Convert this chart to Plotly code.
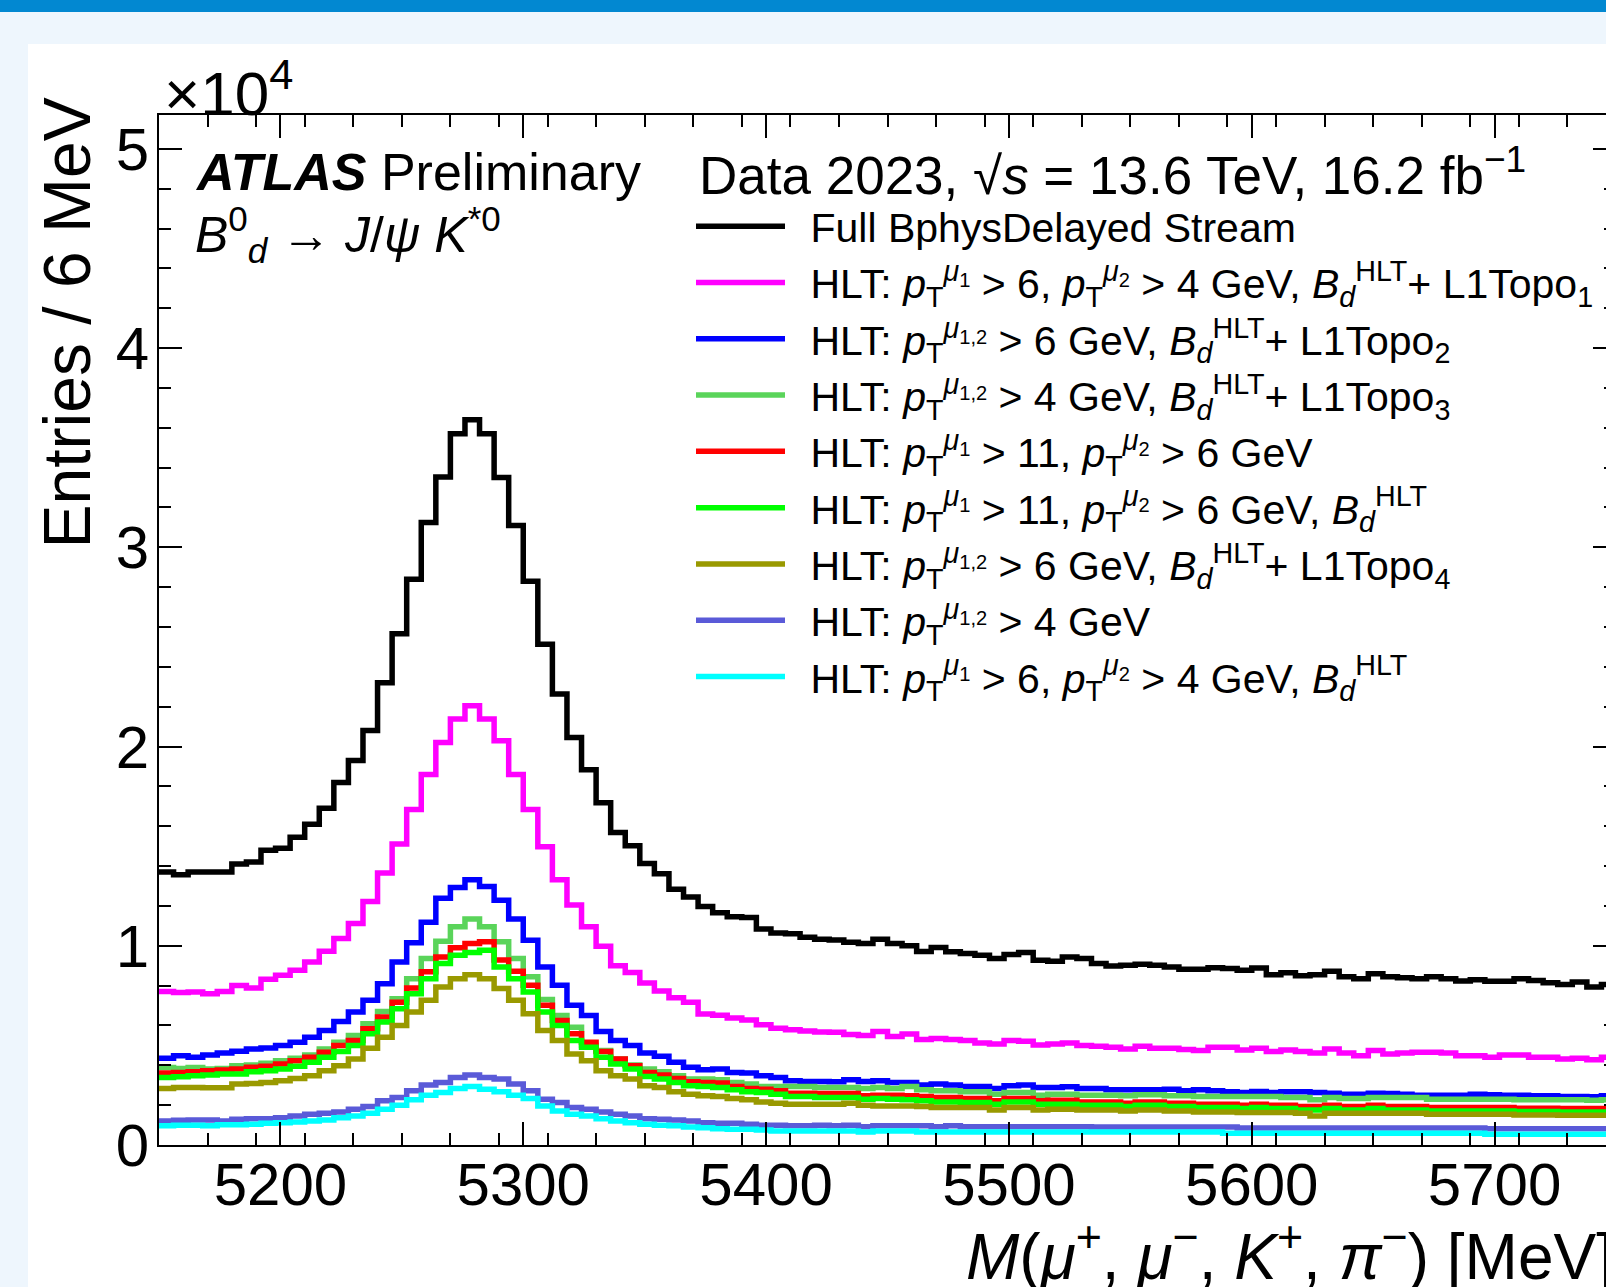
import plotly.graph_objects as go

# ---------------- data (entries per 6 MeV bin, 5150-5750 MeV) ----------------
bin_lo = 5150
bin_width = 6
n_bins = 100

full_stream = [13700, 13560, 13700, 13700, 13700, 14100, 14200, 14800, 14900, 15450,
               16100, 16900, 18200, 19300, 20800, 23200, 25660, 28400, 31250, 33530,
               35700, 36400, 35700, 33500, 31100, 28300, 25140, 22640, 20450, 18830,
               17180, 15680, 15020, 14130, 13620, 12840, 12450, 11970, 11660, 11460,
               11420, 10840, 10640, 10600, 10430, 10330, 10290, 10180, 10120, 10330,
               10120, 10000, 9710, 9910, 9700, 9610, 9530, 9360, 9560, 9660,
               9270, 9220, 9440, 9360, 9110, 8990, 9020, 9070, 9020, 8940,
               8820, 8820, 8900, 8860, 8770, 8890, 8550, 8650, 8490, 8550,
               8720, 8440, 8350, 8600, 8440, 8390, 8350, 8440, 8350, 8230,
               8300, 8220, 8220, 8350, 8260, 8150, 8050, 8180, 7930, 8050]

topo1 = [7710, 7650, 7680, 7590, 7710, 8010, 7880, 8320, 8520, 8770,
         9190, 9730, 10370, 11120, 12220, 13650, 15110, 16840, 18600, 20200,
         21380, 22050, 21380, 20290, 18600, 16840, 14970, 13310, 12050, 10960,
         9980, 9000, 8660, 8130, 7730, 7390, 7160, 6580, 6510, 6370,
         6270, 6030, 5860, 5780, 5720, 5670, 5660, 5550, 5500, 5700,
         5450, 5570, 5300, 5350, 5290, 5240, 5120, 5070, 5240, 5210,
         5020, 5070, 5120, 4990, 4960, 4910, 4820, 4960, 4860, 4860,
         4790, 4740, 4910, 4910, 4770, 4860, 4690, 4770, 4690, 4620,
         4820, 4620, 4480, 4740, 4570, 4620, 4650, 4650, 4620, 4480,
         4480, 4400, 4520, 4520, 4400, 4400, 4320, 4350, 4280, 4400]

topo2 = [4350, 4480, 4400, 4520, 4620, 4700, 4820, 4870, 4990, 5160,
         5410, 5750, 6200, 6670, 7260, 8100, 9190, 10150, 11180, 12390,
         12920, 13310, 12980, 12290, 11340, 10280, 8940, 8020, 7010, 6500,
         5700, 5240, 4990, 4620, 4450, 4150, 3900, 3780, 3810, 3640,
         3610, 3480, 3390, 3220, 3190, 3190, 3170, 3270, 3190, 3220,
         3140, 3140, 3010, 3060, 3010, 2940, 2940, 2840, 2970, 3010,
         2890, 2890, 2920, 2840, 2840, 2770, 2770, 2770, 2770, 2800,
         2720, 2770, 2720, 2670, 2640, 2690, 2640, 2670, 2670, 2640,
         2600, 2550, 2550, 2600, 2590, 2550, 2500, 2500, 2500, 2500,
         2550, 2520, 2500, 2500, 2470, 2470, 2430, 2430, 2420, 2470]

topo3 = [3890, 3840, 3890, 3810, 3840, 3980, 4010, 4100, 4230, 4350,
         4520, 4820, 5160, 5490, 6080, 6700, 7340, 8350, 9360, 10230,
         10960, 11340, 10960, 10200, 9360, 8440, 7300, 6500, 5910, 4990,
         4740, 4320, 4010, 3810, 3680, 3480, 3310, 3310, 3270, 3140,
         3060, 2940, 2940, 2940, 2940, 2890, 2890, 2890, 2840, 2890,
         2840, 2940, 2770, 2720, 2720, 2670, 2670, 2550, 2640, 2640,
         2500, 2550, 2550, 2500, 2500, 2500, 2470, 2520, 2520, 2470,
         2470, 2430, 2430, 2430, 2430, 2430, 2430, 2380, 2380, 2270,
         2380, 2330, 2330, 2380, 2380, 2380, 2380, 2300, 2300, 2300,
         2300, 2300, 2300, 2270, 2270, 2270, 2270, 2270, 2250, 2270]

mu11_mu6 = [3610, 3640, 3680, 3730, 3760, 3810, 3900, 3950, 4060, 4230,
            4400, 4650, 4990, 5240, 5830, 6420, 7170, 7880, 8690, 9440,
            9900, 10110, 10200, 9280, 8720, 8020, 7010, 6250, 5580, 5160,
            4690, 4320, 3980, 3640, 3510, 3340, 3170, 3140, 3110, 2940,
            2840, 2800, 2720, 2600, 2600, 2590, 2590, 2590, 2470, 2500,
            2500, 2470, 2430, 2380, 2380, 2330, 2330, 2220, 2330, 2330,
            2220, 2250, 2250, 2160, 2160, 2160, 2100, 2160, 2160, 2100,
            2100, 2050, 2050, 2050, 2000, 2050, 2000, 2000, 1930, 1930,
            2000, 1930, 1930, 2000, 1930, 1930, 1930, 1880, 1880, 1880,
            1880, 1880, 1880, 1850, 1850, 1850, 1830, 1830, 1830, 1830]

mu11_mu6_bd = [3390, 3430, 3480, 3510, 3560, 3560, 3680, 3730, 3810, 3950,
               4150, 4400, 4690, 4990, 5580, 6170, 6840, 7590, 8350, 9110,
               9530, 9660, 9780, 8940, 8350, 7680, 6670, 6000, 5240, 4910,
               4400, 4060, 3810, 3440, 3310, 3140, 2970, 2940, 2890, 2770,
               2670, 2640, 2550, 2430, 2430, 2380, 2380, 2380, 2300, 2330,
               2300, 2270, 2220, 2160, 2160, 2130, 2130, 2050, 2160, 2160,
               2050, 2050, 2050, 2000, 2000, 2000, 1930, 2000, 2000, 1930,
               1930, 1880, 1880, 1880, 1830, 1880, 1830, 1830, 1760, 1760,
               1830, 1760, 1760, 1830, 1760, 1760, 1760, 1710, 1710, 1710,
               1710, 1710, 1710, 1680, 1680, 1680, 1660, 1660, 1660, 1660]

topo4 = [2840, 2890, 2890, 2870, 2870, 3060, 3090, 3140, 3220, 3340,
         3480, 3730, 3980, 4320, 4860, 5410, 6000, 6670, 7260, 7930,
         8350, 8550, 8350, 7850, 7260, 6590, 5750, 5240, 4570, 4230,
         3730, 3480, 3310, 2970, 2890, 2670, 2550, 2470, 2430, 2330,
         2270, 2160, 2100, 2050, 2050, 2050, 2050, 2100, 2000, 1960,
         1960, 1960, 1930, 1880, 1880, 1880, 1880, 1760, 1880, 1880,
         1760, 1800, 1800, 1760, 1760, 1760, 1710, 1760, 1760, 1710,
         1710, 1660, 1660, 1660, 1630, 1630, 1630, 1630, 1590, 1460,
         1590, 1590, 1590, 1590, 1590, 1590, 1590, 1540, 1540, 1540,
         1540, 1540, 1540, 1510, 1510, 1510, 1490, 1490, 1490, 1490]

mu4 = [1210, 1240, 1260, 1260, 1210, 1290, 1320, 1320, 1370, 1460,
       1540, 1590, 1660, 1800, 1930, 2220, 2390, 2720, 3010, 3140,
       3390, 3510, 3390, 3310, 3060, 2720, 2300, 2130, 1880, 1800,
       1660, 1540, 1460, 1320, 1290, 1260, 1210, 1120, 1090, 1090,
       1040, 990, 990, 960, 960, 990, 960, 990, 920, 960,
       960, 960, 960, 920, 960, 920, 920, 920, 920, 920,
       920, 920, 920, 920, 900, 900, 900, 900, 900, 900,
       900, 900, 900, 900, 850, 850, 850, 850, 850, 850,
       850, 850, 850, 850, 850, 850, 850, 850, 850, 850,
       850, 820, 820, 820, 820, 820, 820, 820, 820, 820]

mu6_mu4_bd = [960, 990, 990, 960, 1020, 1020, 1040, 1090, 1120, 1160,
              1210, 1260, 1370, 1460, 1590, 1800, 2000, 2270, 2500, 2640,
              2840, 2940, 2800, 2670, 2500, 2330, 1960, 1710, 1540, 1460,
              1320, 1210, 1120, 1040, 990, 960, 900, 870, 820, 790,
              790, 750, 700, 700, 700, 700, 700, 700, 650, 700,
              700, 700, 650, 650, 650, 650, 650, 650, 650, 650,
              650, 650, 650, 650, 650, 650, 650, 650, 650, 650,
              650, 650, 650, 590, 590, 590, 590, 590, 590, 590,
              590, 590, 590, 590, 590, 590, 590, 590, 590, 590,
              590, 540, 540, 540, 540, 540, 540, 540, 540, 540]

series = [full_stream, topo1, topo2, topo3, mu11_mu6, mu11_mu6_bd, topo4, mu4, mu6_mu4_bd]

labels = [
    "Full BphysDelayed Stream",
    "HLT: <i>p</i><sub>T</sub><sup><i>μ</i><sub>1</sub></sup> > 6, <i>p</i><sub>T</sub><sup><i>μ</i><sub>2</sub></sup> > 4 GeV, <i>B</i><sub><i>d</i></sub><sup>HLT</sup>+ L1Topo<sub>1</sub>",
    "HLT: <i>p</i><sub>T</sub><sup><i>μ</i><sub>1,2</sub></sup> > 6 GeV, <i>B</i><sub><i>d</i></sub><sup>HLT</sup>+ L1Topo<sub>2</sub>",
    "HLT: <i>p</i><sub>T</sub><sup><i>μ</i><sub>1,2</sub></sup> > 4 GeV, <i>B</i><sub><i>d</i></sub><sup>HLT</sup>+ L1Topo<sub>3</sub>",
    "HLT: <i>p</i><sub>T</sub><sup><i>μ</i><sub>1</sub></sup> > 11, <i>p</i><sub>T</sub><sup><i>μ</i><sub>2</sub></sup> > 6 GeV",
    "HLT: <i>p</i><sub>T</sub><sup><i>μ</i><sub>1</sub></sup> > 11, <i>p</i><sub>T</sub><sup><i>μ</i><sub>2</sub></sup> > 6 GeV, <i>B</i><sub><i>d</i></sub><sup>HLT</sup>",
    "HLT: <i>p</i><sub>T</sub><sup><i>μ</i><sub>1,2</sub></sup> > 6 GeV, <i>B</i><sub><i>d</i></sub><sup>HLT</sup>+ L1Topo<sub>4</sub>",
    "HLT: <i>p</i><sub>T</sub><sup><i>μ</i><sub>1,2</sub></sup> > 4 GeV",
    "HLT: <i>p</i><sub>T</sub><sup><i>μ</i><sub>1</sub></sup> > 6, <i>p</i><sub>T</sub><sup><i>μ</i><sub>2</sub></sup> > 4 GeV, <i>B</i><sub><i>d</i></sub><sup>HLT</sup>",
]

colors = ["#000000", "#ff00ff", "#0000ff", "#5ad45a", "#ff0000",
          "#00ff00", "#999900", "#5a5ad8", "#00ffff"]

x_tick_vals = [5200, 5300, 5400, 5500, 5600, 5700]
y_tick_vals = [0, 10000, 20000, 30000, 40000, 50000]
y_tick_text = ["0", "1", "2", "3", "4", "5"]

# ---------------- geometry (pixels) ----------------
FIG_W, FIG_H = 1660, 1287
PL, PR, PT, PB = 159, 1616, 115, 1145
FONT = "Liberation Sans, Arial, Helvetica, sans-serif"


def fx(px):
    return (px - PL) / (PR - PL)


def fy(py):
    return (PB - py) / (PB - PT)


edges = [bin_lo + i * bin_width for i in range(n_bins + 1)]

fig = go.Figure()
for vals, name, col in zip(series, labels, colors):
    fig.add_trace(go.Scatter(
        x=edges, y=list(vals) + [vals[-1]],
        mode="lines", line=dict(shape="hv", color=col, width=5.5),
        name="\u2002" + name,
    ))

axis_common = dict(
    showline=True, linecolor="black", linewidth=2, mirror="ticks",
    ticks="inside", ticklen=23, tickwidth=2, tickcolor="black",
    showgrid=False, zeroline=False,
    tickfont=dict(family=FONT, size=60, color="black"),
)

fig.update_xaxes(range=[5150, 5750], tickvals=x_tick_vals,
                 minor=dict(ticks="inside", dtick=20, tick0=5150, ticklen=12,
                            tickwidth=2, tickcolor="black"),
                 ticklabelstandoff=-14,
                 **axis_common)
fig.update_yaxes(range=[0, 51700], tickvals=y_tick_vals, ticktext=y_tick_text,
                 minor=dict(ticks="inside", dtick=2000, tick0=0, ticklen=12,
                            tickwidth=2, tickcolor="black"),
                 ticklabelstandoff=-4,
                 **axis_common)

annotations = [
    dict(text="×10<sup>4</sup>", x=fx(162), y=fy(89), xanchor="left", yanchor="middle",
         font=dict(size=62)),
    dict(text="<b><i>ATLAS</i></b> Preliminary", x=fx(193), y=fy(172), xanchor="left",
         yanchor="middle", font=dict(size=52)),
    dict(text="<i>B</i><sup>0</sup><sub><i>d</i></sub> → <i>J</i>/<i>ψ</i> <i>K</i><sup>*0</sup>",
         x=fx(193), y=fy(234), xanchor="left", yanchor="middle", font=dict(size=50)),
    dict(text="Data 2023, √<i>s</i> = 13.6 TeV, 16.2 fb<sup>−1</sup>", x=fx(697), y=fy(172),
         xanchor="left", yanchor="middle", font=dict(size=53)),
    dict(text="Entries / 6 MeV", textangle=-90, x=fx(66), y=fy(96), xanchor="center",
         yanchor="top", font=dict(size=66)),
    dict(text="<i>M</i>(<i>μ</i><sup>+</sup>, <i>μ</i><sup>−</sup>, <i>K</i><sup>+</sup>, <i>π</i><sup>−</sup>) [MeV]",
         x=1.0, y=fy(1252), xanchor="right", yanchor="middle", font=dict(size=64)),
]
for a in annotations:
    a.update(xref="paper", yref="paper", showarrow=False)
    a["font"].update(family=FONT, color="black")

shapes = [
    dict(type="rect", xref="paper", yref="paper", x0=fx(28), x1=fx(FIG_W + 10),
         y0=fy(FIG_H + 10), y1=fy(44), fillcolor="white", line=dict(width=0), layer="below"),
    dict(type="rect", xref="paper", yref="paper", x0=fx(-10), x1=fx(FIG_W + 10),
         y0=fy(12), y1=fy(-10), fillcolor="#0288d1", line=dict(width=0), layer="below"),
]

fig.update_layout(
    width=FIG_W, height=FIG_H, autosize=False,
    margin=dict(l=PL, r=FIG_W - PR, t=PT, b=FIG_H - PB, pad=0),
    paper_bgcolor="#eef6fd", plot_bgcolor="white",
    font=dict(family=FONT, color="black"),
    annotations=annotations, shapes=shapes,
    showlegend=True,
    legend=dict(x=fx(691), y=fy(193), xanchor="left", yanchor="top",
                bgcolor="rgba(0,0,0,0)", borderwidth=0,
                font=dict(family=FONT, size=41, color="black"),
                itemwidth=89, tracegroupgap=0),
)

post = (
    "document.body.style.margin='0';"
    "document.documentElement.style.overflow='hidden';"
    "document.body.style.overflow='hidden';"
    "var d=document.getElementById('{plot_id}');"
    "d.parentElement.style.width='1606px';d.parentElement.style.overflow='hidden';"
)
fig.write_html("out.html", post_script=post, config={"displayModeBar": False})
